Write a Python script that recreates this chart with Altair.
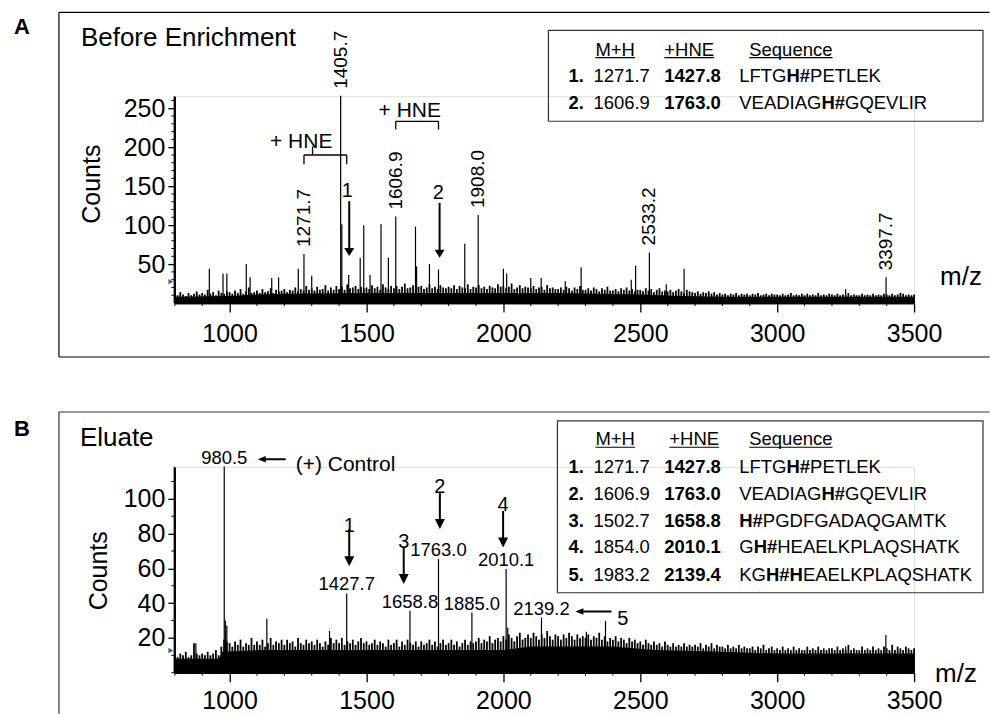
import re
import altair as alt
import pandas as pd

FONT = "Liberation Sans"

# ---------------- data ----------------
NOISE_START, NOISE_STEP = 800, 10

noise_A = [
    12, 10, 14, 11, 9, 13, 10, 12, 15, 11,
    13, 11, 17, 12, 14, 10, 16, 13, 12, 15,
    14, 12, 16, 13, 18, 12, 15, 20, 13, 14,
    16, 13, 18, 14, 15, 19, 13, 17, 15, 16,
    18, 14, 17, 16, 20, 15, 18, 16, 22, 17,
    19, 16, 21, 17, 18, 23, 16, 20, 17, 22,
    18, 21, 17, 24, 19, 20, 22, 18, 21, 19,
    20, 18, 23, 19, 21, 17, 24, 20, 18, 22,
    19, 22, 18, 21, 25, 19, 20, 23, 18, 21,
    22, 18, 20, 24, 19, 21, 18, 23, 20, 19,
    21, 19, 23, 18, 22, 20, 19, 24, 18, 21,
    20, 23, 19, 21, 18, 22, 20, 19, 24, 21,
    22, 19, 21, 25, 18, 20, 23, 19, 21, 20,
    19, 22, 18, 20, 21, 17, 23, 19, 20, 18,
    18, 20, 17, 21, 19, 16, 20, 18, 22, 17,
    17, 19, 16, 20, 18, 15, 19, 17, 21, 16,
    16, 18, 15, 19, 17, 20, 16, 18, 15, 17,
    17, 15, 19, 16, 18, 14, 17, 19, 15, 16,
    15, 17, 14, 16, 18, 15, 13, 17, 15, 14,
    13, 15, 12, 14, 13, 15, 12, 14, 11, 13,
    11, 12, 10, 12, 11, 13, 10, 12, 11, 12,
    10, 12, 11, 13, 10, 11, 12, 10, 12, 11,
    11, 10, 12, 10, 11, 13, 10, 11, 10, 12,
    10, 12, 10, 11, 10, 13, 10, 11, 10, 12,
    11, 10, 12, 10, 11, 10, 13, 10, 11, 10,
    10, 12, 10, 11, 10, 12, 10, 11, 10, 12,
    11, 10, 12, 10, 11, 13, 12, 10, 11, 10, 11,
]
noise_B = [
    10, 9, 11, 10, 12, 9, 10, 17, 11, 10,
    11, 10, 12, 10, 11, 13, 10, 15, 19, 18,
    17, 15, 18, 16, 19, 15, 17, 16, 20, 16,
    18, 16, 19, 15, 17, 20, 16, 18, 17, 19,
    16, 19, 17, 18, 15, 20, 17, 16, 19, 17,
    18, 16, 19, 17, 15, 18, 16, 20, 17, 19,
    17, 20, 16, 18, 17, 19, 16, 18, 20, 17,
    18, 16, 17, 19, 16, 18, 17, 15, 19, 16,
    17, 19, 15, 18, 16, 19, 17, 16, 18, 15,
    18, 16, 17, 19, 16, 18, 15, 17, 19, 16,
    17, 19, 16, 18, 15, 17, 19, 16, 18, 17,
    18, 20, 17, 19, 18, 21, 17, 19, 20, 18,
    21, 19, 22, 20, 18, 21, 23, 19, 20, 22,
    20, 23, 21, 19, 22, 20, 24, 21, 19, 22,
    21, 19, 22, 20, 23, 21, 19, 22, 20, 21,
    20, 22, 19, 21, 20, 23, 19, 21, 18, 20,
    19, 21, 18, 20, 19, 17, 20, 18, 19, 17,
    18, 16, 19, 17, 16, 18, 16, 17, 15, 18,
    16, 15, 17, 15, 16, 15, 17, 15, 16, 15,
    16, 15, 17, 14, 16, 15, 17, 14, 16, 15,
    15, 14, 16, 14, 15, 14, 16, 14, 15, 14,
    14, 15, 13, 15, 14, 16, 13, 14, 15, 13,
    14, 13, 15, 13, 14, 13, 15, 13, 14, 13,
    13, 15, 13, 14, 13, 15, 13, 14, 13, 14,
    14, 13, 15, 13, 14, 13, 16, 13, 14, 13,
    13, 15, 13, 14, 13, 15, 13, 14, 13, 15,
    14, 13, 16, 13, 15, 14, 13, 15, 14, 13, 14,
]

floor_A_mz = [800, 1000, 1100, 1200, 1500, 2000, 2200, 2500, 2650, 2800, 3500]
floor_A = [8, 9, 11, 12, 13, 13, 13, 11, 9, 8, 8]
floor_B_mz = [800, 962, 972, 1100, 2000, 2100, 2400, 2550, 2800, 3000, 3500]
floor_B = [8, 8, 12, 13, 13, 15, 15, 13, 12, 11, 11]

peaks_A_mz = [926, 976, 990, 1061, 1075, 1154, 1179, 1251, 1271.7, 1300,
              1405.7, 1410, 1435, 1477, 1490, 1513, 1553, 1580, 1606.9, 1679,
              1683, 1730, 1763, 1859, 1908.0, 2000, 2012, 2100, 2138, 2226,
              2284, 2467, 2483, 2533.2, 2595, 2660, 3250, 3397.7]
peaks_A = [44, 38, 38, 50, 33, 32, 33, 44, 63, 35,
           266, 101, 36, 58, 100, 36, 101, 58, 111, 98,
           47, 50, 43, 76, 113, 44, 38, 32, 32, 28,
           46, 30, 48, 65, 24, 44, 18, 33]
labels_A = ["1271.7", "1405.7", "1606.9", "1908.0", "2533.2", "3397.7"]

peaks_B_mz = [877, 980.5, 985, 990, 1136, 1365, 1427.7, 1658.8, 1763.0, 1885.0,
              2010.1, 2016, 2139.2, 2303, 2373, 3250, 3397]
peaks_B = [17, 118.6, 30, 27, 31, 24, 45.6, 35.6, 65.4, 34.6,
           59.6, 26, 31.7, 23.6, 29.8, 15, 21.7]
labels_B = ["980.5", "1427.7", "1658.8", "1763.0", "1885.0", "2010.1", "2139.2"]

ticks_x = [1000, 1500, 2000, 2500, 3000, 3500]
ticks_y_A = [50, 100, 150, 200, 250]
ticks_y_B = [20, 40, 60, 80, 100]

# annotation arrows (label, m/z, tail counts, tip counts, label m/z, label baseline counts)
arrows_A = [("1", 1437, 130.8, 60.3, 1430, 143.6), ("2", 1767, 128.6, 58.1, 1762, 141.4)]
arrows_B = [("1", 1437, 82.6, 61.3, 1437, 84.5), ("3", 1636, 72.0, 51.0, 1636, 74.9),
            ("2", 1768, 103.6, 82.6, 1768, 107.0), ("4", 1999, 93.1, 72.0, 1999, 96.6)]
# brackets "+ HNE" in panel A: (left m/z, right m/z, bar counts, leg end counts)
brackets_A = [(1271.7, 1427.8, 190, 178), (1606.9, 1763.0, 233.3, 222.7)]

table_A_num = ["1.", "2."]
table_A_mh = ["1271.7", "1606.9"]
table_A_hne = ["1427.8", "1763.0"]
table_A_seq = ["LFTG[H#]PETLEK", "VEADIAG[H#]GQEVLIR"]
table_B_num = ["1.", "2.", "3.", "4.", "5."]
table_B_mh = ["1271.7", "1606.9", "1502.7", "1854.0", "1983.2"]
table_B_hne = ["1427.8", "1763.0", "1658.8", "2010.1", "2139.4"]
table_B_seq = ["LFTG[H#]PETLEK", "VEADIAG[H#]GQEVLIR", "[H#]PGDFGADAQGAMTK",
               "G[H#]HEAELKPLAQSHATK", "KG[H#H]EAELKPLAQSHATK"]
headers = ["M+H", "+HNE", "Sequence"]

# ---------------- layout ----------------
W = 740
HA, HB = 207, 206
OXA, OYA = 174, 95
OXB, OYB = 174, 466
YMAX_A, YMAX_B = 265.4, 118.4
PPC_A, PPC_B = HA / YMAX_A, HB / YMAX_B
MZ_PER_PX = 2700 / W

ONE = pd.DataFrame({"k": [0]})

W_REG = {' ': 278, '#': 556, '+': 584, '.': 278, 'A': 667, 'B': 667, 'C': 722, 'D': 722,
         'E': 667, 'F': 611, 'G': 778, 'H': 722, 'I': 278, 'K': 667, 'L': 556, 'M': 833,
         'N': 722, 'P': 667, 'Q': 778, 'R': 722, 'S': 667, 'T': 611, 'V': 667,
         'c': 500, 'e': 556, 'n': 556, 'q': 556, 'u': 556}
for d in "0123456789":
    W_REG[d] = 556
W_BOLD = dict(W_REG)
W_BOLD.update({'A': 722, 'E': 667, 'H': 722})


def text_width(s, size, bold=False):
    table = W_BOLD if bold else W_REG
    return sum(table.get(c, 600) for c in s) / 1000.0 * size


def parse_seq(s):
    out, pos = [], 0
    for m in re.finditer(r"\[([^\]]+)\]", s):
        if m.start() > pos:
            out.append((s[pos:m.start()], False))
        out.append((m.group(1), True))
        pos = m.end()
    if pos < len(s):
        out.append((s[pos:], False))
    return out


def ptext(text, x, y, size, ox, oy, weight="normal", align="left", baseline="alphabetic", angle=0):
    kw = dict(text=text, fontSize=size, fontWeight=weight, align=align,
              baseline=baseline, font=FONT, color="black")
    if angle:
        kw["angle"] = angle
    return alt.Chart(ONE).mark_text(**kw).encode(x=alt.value(x - ox), y=alt.value(y - oy))


def prule(x1, y1, x2, y2, ox, oy, color="black", width=1.0, opacity=1.0):
    return alt.Chart(ONE).mark_rule(color=color, strokeWidth=width, opacity=opacity).encode(
        x=alt.value(x1 - ox), y=alt.value(y1 - oy), x2=alt.value(x2 - ox), y2=alt.value(y2 - oy))


def prect(x1, y1, x2, y2, ox, oy):
    return alt.Chart(ONE).mark_rect(fillOpacity=0, stroke="#333333", strokeWidth=1.2).encode(
        x=alt.value(x1 - ox), y=alt.value(y1 - oy), x2=alt.value(x2 - ox), y2=alt.value(y2 - oy))


def x_axis(pad):
    return alt.Axis(values=ticks_x, title=None, grid=False, labelFont=FONT, labelFontSize=25,
                    labelColor="black", labelPadding=pad, tickSize=9, tickColor="black", tickWidth=1.3,
                    domainColor="black", domainWidth=1.3, format="d", labelFlush=False,
                    labelOverlap=False)


def y_axis(vals):
    return alt.Axis(values=vals, title=None, grid=False, labelFont=FONT, labelFontSize=25,
                    labelColor="black", labelPadding=3, tickSize=7, tickColor="black", tickWidth=1.3,
                    domainColor="black", domainWidth=1.3, format="d", labelOverlap=False)


def table_layers(ox, oy, box, hdr_x, hdr_base, row_bases, nums, mh, hne, seqs, size=18.5):
    layers = [prect(*box, ox, oy)]
    for label, x in zip(headers, hdr_x):
        layers.append(ptext(label, x, hdr_base, size, ox, oy))
        layers.append(prule(x, hdr_base + 2, x + text_width(label, size), hdr_base + 2, ox, oy, width=1.1))
    for i, yb in enumerate(row_bases):
        layers.append(ptext(nums[i], 568, yb, size, ox, oy, weight="bold"))
        layers.append(ptext(mh[i], 593, yb, size, ox, oy))
        layers.append(ptext(hne[i], 664, yb, size, ox, oy, weight="bold"))
        x = 739
        for seg, bold in parse_seq(seqs[i]):
            layers.append(ptext(seg, x, yb, size, ox, oy, weight="bold" if bold else "normal"))
            x += text_width(seg, size, bold)
    return layers


def spectrum(noise, fl_mz, fl, pk_mz, pk, X, Y, H, minor_y, marker):
    nd = pd.DataFrame({"mz": [NOISE_START + NOISE_STEP * i for i in range(len(noise))],
                       "counts": noise, "c0": 0})
    fd = pd.DataFrame({"mz": fl_mz, "counts": fl})
    pdf = pd.DataFrame({"mz": pk_mz, "counts": pk, "c0": 0})
    layers = [
        alt.Chart(fd).mark_area(color="black", opacity=1).encode(x=X, y=Y),
        alt.Chart(nd).mark_rule(color="black", strokeWidth=1.8).encode(x=X, y=Y, y2=alt.Y2("c0:Q")),
        alt.Chart(pdf).mark_rule(color="black", strokeWidth=1.2).encode(x=X, y=Y, y2=alt.Y2("c0:Q")),
    ]
    my = pd.DataFrame({"counts": minor_y})
    layers.append(alt.Chart(my).mark_rule(color="black", strokeWidth=1).encode(
        x=alt.value(-3.5), x2=alt.value(-0.5), y=Y))
    mx = pd.DataFrame({"mz": [m for m in range(800, 3501, 100) if m % 500 != 0]})
    layers.append(alt.Chart(mx).mark_rule(color="black", strokeWidth=1).encode(
        x=X, y=alt.value(H), y2=alt.value(H + 3)))
    # solid axis lines
    layers.append(alt.Chart(ONE).mark_rule(color="black", strokeWidth=1.4).encode(
        x=alt.value(-0.5), y=alt.value(0), y2=alt.value(H)))
    layers.append(alt.Chart(ONE).mark_rule(color="black", strokeWidth=1.4).encode(
        x=alt.value(0), x2=alt.value(W), y=alt.value(H + 0.5)))
    layers.append(alt.Chart(pd.DataFrame({"counts": [marker]})).mark_point(
        shape="triangle-right", filled=True, color="#2f5fb3", size=30, opacity=1).encode(
        x=alt.value(-4), y=Y))
    return layers


def arrow_layers(arrows, X, Y, ppc, head_len, head_path, num_size):
    sd = pd.DataFrame({"mz": [a[1] for a in arrows], "counts": [a[2] for a in arrows],
                       "counts2": [a[3] + 0.6 * head_len / ppc for a in arrows]})
    hd = pd.DataFrame({"mz": [a[1] for a in arrows], "counts": [a[3] for a in arrows]})
    td = pd.DataFrame({"mz": [a[4] for a in arrows], "counts": [a[5] for a in arrows],
                       "t": [a[0] for a in arrows]})
    return [
        alt.Chart(sd).mark_rule(color="black", strokeWidth=2).encode(x=X, y=Y, y2=alt.Y2("counts2:Q")),
        alt.Chart(hd).mark_point(shape=head_path, filled=True, size=100, color="black",
                                 opacity=1, strokeWidth=0).encode(x=X, y=Y),
        alt.Chart(td).mark_text(fontSize=num_size, font=FONT, align="center", color="black").encode(
            x=X, y=Y, text="t:N"),
    ]


def harrow(tip_mz, tail_mz, counts, X, Y):
    sd = pd.DataFrame({"mz": [tail_mz], "mz2": [tip_mz + 0.6 * 8 * MZ_PER_PX], "counts": [counts]})
    hd = pd.DataFrame({"mz": [tip_mz], "counts": [counts]})
    return [
        alt.Chart(sd).mark_rule(color="black", strokeWidth=2).encode(x=X, x2=alt.X2("mz2:Q"), y=Y),
        alt.Chart(hd).mark_point(shape="M0,0L2,-0.8L2,0.8Z", filled=True, size=64, color="black",
                                 opacity=1, strokeWidth=0).encode(x=X, y=Y),
    ]


sx = alt.Scale(domain=[800, 3500], nice=False, zero=False)

# ---------------- panel A ----------------
XA = alt.X("mz:Q", scale=sx, axis=x_axis(9))
YA = alt.Y("counts:Q", scale=alt.Scale(domain=[0, YMAX_A], nice=False), axis=y_axis(ticks_y_A))

layA = [prule(0, 0, 990.5, 713.5, OXA, OYA, opacity=0)]
layA += [prule(58, 11, 989.5, 11, OXA, OYA, width=1.2), prule(58, 11, 58, 356, OXA, OYA, width=1.2),
         prule(58, 356, 989.5, 356, OXA, OYA, width=1.2)]
layA += spectrum(noise_A, floor_A_mz, floor_A, peaks_A_mz, peaks_A, XA, YA, HA,
                 [v for v in range(10, 261, 10) if v % 50 != 0], 27.5)
lab_df_A = pd.DataFrame({"mz": [float(l) for l in labels_A],
                         "counts": [peaks_A[peaks_A_mz.index(float(l))] for l in labels_A],
                         "label": labels_A})
layA.append(alt.Chart(lab_df_A).mark_text(angle=270, align="left", baseline="middle", dx=7,
                                          fontSize=19, font=FONT, color="black").encode(
    x=XA, y=YA, text="label:N"))
br_rows = []
for l, r, bar, leg in brackets_A:
    br_rows += [(l, r, bar, bar), (l, l, bar, leg), (r, r, bar, leg)]
br_rows.append((1303, 1303, 190, 201))
br_df = pd.DataFrame(br_rows, columns=["mz", "mz2", "counts", "counts2"])
layA.append(alt.Chart(br_df).mark_rule(color="black", strokeWidth=1.3).encode(
    x=XA, x2=alt.X2("mz2:Q"), y=YA, y2=alt.Y2("counts2:Q")))
hne_df = pd.DataFrame({"mz": [1261.6, 1658], "counts": [206.7, 245.9], "t": ["+ HNE", "+ HNE"]})
layA.append(alt.Chart(hne_df).mark_text(fontSize=21, font=FONT, align="center", color="black").encode(
    x=XA, y=YA, text="t:N"))
layA += arrow_layers(arrows_A, XA, YA, PPC_A, 8, "M-1,-1.6L1,-1.6L0,0Z", 20)
layA += [
    ptext("A", 13, 33, 22, OXA, OYA, weight="bold"),
    ptext("Before Enrichment", 80, 45, 26, OXA, OYA),
    ptext("Counts", 91, 183, 25, OXA, OYA, align="center", baseline="middle", angle=270),
    ptext("m/z", 940, 284, 26, OXA, OYA),
]
layA += table_layers(OXA, OYA, (548, 29, 983, 120), [595, 664, 749], 54.3, [80.6, 107.3],
                     table_A_num, table_A_mh, table_A_hne, table_A_seq)
panelA = alt.layer(*layA).properties(width=W, height=HA)

# ---------------- panel B ----------------
XB = alt.X("mz:Q", scale=sx, axis=x_axis(7))
YB = alt.Y("counts:Q", scale=alt.Scale(domain=[0, YMAX_B], nice=False), axis=y_axis(ticks_y_B))

layB = [prule(58, 411, 989.5, 411, OXB, OYB, color="#777777", width=1.5),
        prule(58, 411, 58, 713, OXB, OYB, color="#333333", width=1.2)]
layB += spectrum(noise_B, floor_B_mz, floor_B, peaks_B_mz, peaks_B, XB, YB, HB,
                 [0, 10, 30, 50, 70, 90, 110], 12.7)
lab_df_B = pd.DataFrame({"mz": [float(l) for l in labels_B],
                         "counts": [peaks_B[peaks_B_mz.index(float(l))] for l in labels_B],
                         "label": labels_B})
layB.append(alt.Chart(lab_df_B).mark_text(align="center", baseline="alphabetic", dy=-3,
                                          fontSize=18.5, font=FONT, color="black").encode(
    x=XB, y=YB, text="label:N"))
layB += arrow_layers(arrows_B, XB, YB, PPC_B, 10, "M-1,-2L1,-2L0,0Z", 20)
layB += harrow(1103, 1205, 122.8, XB, YB)
layB += harrow(2263, 2395, 35.2, XB, YB)
ann_B = pd.DataFrame({"mz": [1241.5, 2416], "counts": [119.5, 30.9], "t": ["(+) Control", "5"],
                      "fs": [21, 20]})
layB.append(alt.Chart(ann_B).mark_text(font=FONT, align="left", color="black").encode(
    x=XB, y=YB, text="t:N", size=alt.Size("fs:Q", scale=None, legend=None)))
layB += [
    ptext("B", 13, 435, 22, OXB, OYB, weight="bold"),
    ptext("Eluate", 79, 445, 26, OXB, OYB),
    ptext("Counts", 98, 570, 25, OXB, OYB, align="center", baseline="middle", angle=270),
    ptext("m/z", 935, 681, 26, OXB, OYB),
]
layB += table_layers(OXB, OYB, (557, 420, 983, 592), [595, 669, 749], 444.3,
                     [471.9, 498.9, 525.9, 552.6, 579.9],
                     table_B_num, table_B_mh, table_B_hne, table_B_seq)
panelB = alt.layer(*layB).properties(width=W, height=HB)

chart = alt.vconcat(panelA, panelB, spacing=OYB - (OYA + HA), bounds="flush", padding=0) \
    .configure_view(stroke=None).configure(font=FONT)

chart.save("out.html", embed_options={"renderer": "svg", "actions": False})
